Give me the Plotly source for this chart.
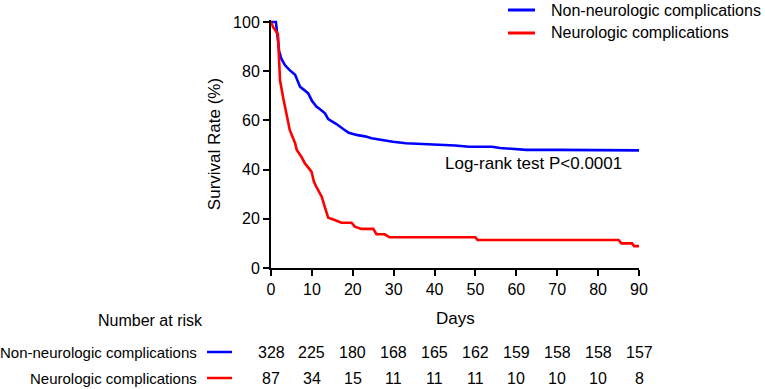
import plotly.graph_objects as go

# ---- data ----
blue_days = [0, 1.2, 2.0, 2.5, 3.4, 4.5, 5.9, 7.1, 8, 9.1, 10, 11.1, 12, 13.2, 14, 15.2, 16,
             18, 19, 21.2, 23, 24.6, 27, 29.8, 33, 36, 41.2, 45, 48.5, 54, 56, 60, 62.4,
             70, 80, 80.4, 90]
blue_pct = [100, 100, 88, 85.2, 82.5, 80.5, 78.5, 73.7, 72.5, 71, 68, 65.6, 64.5, 62.9, 60.5,
            59.5, 58.5, 56.1, 55, 54, 53.5, 52.7, 52, 51.3, 50.7, 50.5, 50, 49.8, 49.3, 49.3,
            48.8, 48.3, 48, 48, 48, 47.8, 47.8]

red_days = [0, 0.5, 1.7, 2.2, 3, 4.6, 5.9, 6.3, 7.5, 8.3, 9.9, 10.5, 11.1, 12.4, 13.3, 14,
            15.6, 17.2, 19.7, 20.5, 22.1, 25, 25.8, 27.8, 29, 50, 50.5, 85, 85.7, 88.3, 88.8, 90]
red_pct = [100, 98, 95, 76.4, 69, 56, 50.7, 48, 45, 42.5, 39.2, 35, 33, 29, 24, 20.4,
           19.5, 18.4, 18.4, 16.8, 15.9, 15.9, 13.7, 13.7, 12.5, 12.5, 11.4, 11.4, 10, 10, 8.9, 8.9]

risk_days = [0, 10, 20, 30, 40, 50, 60, 70, 80, 90]
risk_non_neuro = [328, 225, 180, 168, 165, 162, 159, 158, 158, 157]
risk_neuro = [87, 34, 15, 11, 11, 11, 10, 10, 10, 8]

group_names = ["Non-neurologic complications", "Neurologic complications"]
group_colors = ["#0000FF", "#FF0000"]

FONT = "Liberation Sans, Arial, sans-serif"

fig = go.Figure()
fig.add_trace(go.Scatter(x=blue_days, y=blue_pct, mode="lines",
                         line=dict(color=group_colors[0], width=2.6), name=group_names[0],
                         showlegend=False))
fig.add_trace(go.Scatter(x=red_days, y=red_pct, mode="lines",
                         line=dict(color=group_colors[1], width=2.6), name=group_names[1],
                         showlegend=False))

# plot area in pixels: x 271..639, y 20..268
W, H = 765, 389
L, R, T, B = 271, 639, 20, 268
pw, ph = R - L, B - T

def px(xp):
    return (xp - L) / pw

def py(yp):
    return (B - yp) / ph

ann = []
shapes = []

# legend (top right)
for i, (nm, col, yp) in enumerate(zip(group_names, group_colors, [10, 33])):
    shapes.append(dict(type="line", xref="paper", yref="paper",
                       x0=px(508), x1=px(535), y0=py(yp), y1=py(yp),
                       line=dict(color=col, width=3)))
    ann.append(dict(text=nm, xref="paper", yref="paper", x=px(549), y=py(yp),
                    xanchor="left", yanchor="middle", showarrow=False,
                    font=dict(size=16, color="black", family=FONT)))

# Log-rank annotation
ann.append(dict(text="Log-rank test P<0.0001", xref="x", yref="y", x=64.3, y=42.5,
                xanchor="center", yanchor="middle", showarrow=False,
                font=dict(size=17, color="black", family=FONT)))

# Days title
ann.append(dict(text="Days", xref="x", yref="paper", x=45, y=py(318),
                xanchor="center", yanchor="middle", showarrow=False,
                font=dict(size=17, color="black", family=FONT)))

# Number at risk
ann.append(dict(text="Number at risk", xref="paper", yref="paper", x=px(150), y=py(320),
                xanchor="center", yanchor="middle", showarrow=False,
                font=dict(size=16, color="black", family=FONT)))

rows = [(group_names[0], group_colors[0], risk_non_neuro, 352),
        (group_names[1], group_colors[1], risk_neuro, 378)]
for nm, col, vals, yp in rows:
    ann.append(dict(text=nm, xref="paper", yref="paper", x=px(199), y=py(yp),
                    xanchor="right", yanchor="middle", showarrow=False,
                    font=dict(size=15, color="black", family=FONT)))
    shapes.append(dict(type="line", xref="paper", yref="paper",
                       x0=px(207), x1=px(232), y0=py(yp), y1=py(yp),
                       line=dict(color=col, width=2.5)))
    for d, v in zip(risk_days, vals):
        ann.append(dict(text=str(v), xref="x", yref="paper", x=d, y=py(yp),
                        xanchor="center", yanchor="middle", showarrow=False,
                        font=dict(size=16, color="black", family=FONT)))

fig.update_layout(
    width=W, height=H,
    margin=dict(l=L, r=W - R, t=T, b=H - B, pad=0),
    plot_bgcolor="white", paper_bgcolor="white",
    font=dict(family=FONT, color="black"),
    annotations=ann, shapes=shapes,
    xaxis=dict(range=[0, 90], tickvals=risk_days, ticks="outside", ticklen=6, tickwidth=2,
               tickcolor="black", showline=True, linecolor="black", linewidth=2,
               showgrid=False, zeroline=False, tickfont=dict(size=16, family=FONT)),
    yaxis=dict(range=[0, 100.8], tickvals=[0, 20, 40, 60, 80, 100], ticks="outside",
               ticklen=6, tickwidth=2, tickcolor="black", showline=True, linecolor="black",
               linewidth=2, showgrid=False, zeroline=False,
               tickfont=dict(size=16, family=FONT),
               title=dict(text="Survival Rate (%)", font=dict(size=17, family=FONT),
                          standoff=8)),
)

fig.write_html("out.html", config={"displayModeBar": False},
               post_script="document.body.style.margin='0';document.body.style.padding='0';")
